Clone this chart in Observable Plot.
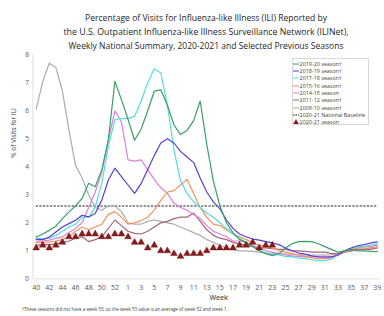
<!DOCTYPE html>
<html><head><meta charset="utf-8">
<script src="https://cdn.jsdelivr.net/npm/d3@7"></script>
<script src="https://cdn.jsdelivr.net/npm/@observablehq/plot@0.6"></script>
<style>
html,body{margin:0;padding:0;background:#fff;}
#wrap{position:relative;width:384px;height:316px;overflow:hidden;font-family:"Open Sans",sans-serif;}
#wrap > svg{position:absolute;left:0;top:0;}
#legend{position:absolute;left:291.5px;top:58px;width:77px;height:67px;border:0.8px solid #d9d9d9;box-sizing:border-box;background:#fff;font-size:5.4px;color:#404040;padding-top:1.2px;}
#legend .row{height:7.3px;display:flex;align-items:center;white-space:nowrap;}
#legend .row svg{display:block;margin-left:0.5px;margin-right:0.6px;}
</style></head><body><div id="wrap"></div>
<script>
// Week labels (season week order, 53 positions)
const weeks = [40,41,42,43,44,45,46,47,48,49,50,51,52,53,1,2,3,4,5,6,7,8,9,10,11,12,13,14,15,16,17,18,19,20,21,22,23,24,25,26,27,28,29,30,31,32,33,34,35,36,37,38,39];
const yTicks = [0,1,2,3,4,5,6,7,8];

const s2019_20 = [1.49,1.6,1.73,1.88,2.15,2.39,2.6,2.87,3.41,3.29,3.89,4.97,7.05,6.4,5.7,4.95,5.35,6.0,6.7,6.75,6.2,5.5,5.15,5.3,5.65,6.35,4.8,3.5,2.6,2.0,1.65,1.4,1.3,1.15,1.0,0.9,0.83,0.9,1.1,1.25,1.33,1.34,1.33,1.25,1.15,1.05,0.95,1.0,1.05,1.0,1.0,0.98,0.97];
const s2018_19 = [1.41,1.4,1.49,1.67,1.85,1.97,2.09,2.27,2.21,2.33,2.81,3.53,3.95,3.65,3.35,3.05,3.4,3.9,4.4,4.85,5.0,4.85,4.55,4.35,4.15,3.6,3.1,2.75,2.5,2.1,1.8,1.6,1.5,1.42,1.38,1.33,1.28,1.22,1.1,1.0,0.92,0.88,0.82,0.78,0.77,0.78,0.85,1.0,1.1,1.18,1.22,1.28,1.32];
const s2017_18 = [1.45,1.43,1.45,1.55,1.7,1.85,1.95,2.2,2.2,2.57,3.41,4.73,5.69,5.72,5.73,5.8,6.35,7.0,7.5,7.35,6.2,4.6,3.5,3.05,2.75,2.55,2.35,2.2,2.0,1.8,1.6,1.45,1.3,1.15,1.0,0.92,0.88,0.85,0.8,0.78,0.75,0.72,0.68,0.65,0.65,0.7,0.85,1.0,1.1,1.15,1.15,1.2,1.25];
const s2015_16 = [1.3,1.3,1.32,1.35,1.4,1.5,1.7,1.85,1.75,1.85,1.95,2.3,2.4,2.2,1.95,2.0,2.08,2.2,2.45,2.8,3.1,3.15,3.35,3.55,3.05,2.55,2.2,1.95,1.9,1.75,1.6,1.5,1.4,1.3,1.2,1.15,1.1,1.0,0.95,0.9,0.85,0.8,0.75,0.72,0.72,0.75,0.85,0.95,1.05,1.1,1.1,1.1,1.15];
const s2014_15 = [1.35,1.35,1.38,1.45,1.5,1.65,1.8,2.0,2.55,3.1,3.8,4.95,6.0,5.6,4.25,4.2,4.25,3.9,3.55,3.25,3.05,2.7,2.55,2.45,2.3,2.15,1.9,1.7,1.6,1.5,1.35,1.35,1.3,1.2,1.1,1.0,0.95,0.9,0.85,0.82,0.8,0.78,0.78,0.8,0.8,0.78,0.85,0.95,1.05,1.1,1.15,1.15,1.2];
const s2011_12 = [1.2,1.22,1.22,1.25,1.3,1.35,1.45,1.5,1.33,1.4,1.5,1.8,2.1,1.9,1.7,1.62,1.6,1.7,1.85,2.0,2.05,2.15,2.2,2.2,2.35,2.05,1.75,1.55,1.45,1.4,1.3,1.25,1.2,1.15,1.1,1.1,1.08,1.05,1.05,1.0,1.0,0.98,0.95,0.95,0.95,0.9,0.9,0.95,1.0,1.05,1.05,1.05,1.1];
const s2009_10 = [6.05,7.05,7.7,7.55,6.7,5.3,4.05,3.6,3.0,2.55,2.45,2.6,2.6,2.4,2.0,1.95,1.95,2.05,2.1,2.05,2.0,1.95,1.85,1.75,1.65,1.55,1.4,1.3,1.2,1.1,1.05,1.0,1.0,0.98,0.95,0.92,0.9,0.9,0.88,0.88,0.85,0.85,0.85,0.85,0.85,0.85,0.9,0.95,1.0,1.05,1.05,1.1,1.1];
const baseline2020_21 = 2.6;
const s2020_21 = [1.1,1.2,1.1,1.2,1.3,1.5,1.5,1.6,1.6,1.6,1.5,1.5,1.6,1.6,1.5,1.3,1.3,1.1,1.2,1.0,1.0,0.9,0.8,0.9,0.9,0.9,1.0,1.1,1.1,1.1,1.1,1.2,1.2,1.3,1.1,1.2,1.2];

const seasonNames = ["2019-20 season†","2018-19 season†","2017-18 season†","2015-16 season†","2014-15 season","2011-12 season†","2009-10 season†"];
const seasonValues = [s2019_20,s2018_19,s2017_18,s2015_16,s2014_15,s2011_12,s2009_10];
const seasonColors = ["#3a9f66","#5540d6","#52dede","#f4915a","#e07fdd","#a4657d","#acacac"];
const baselineName = "2020-21 National Baseline";
const currentName = "2020-21 season";

const lineData = seasonNames.flatMap((name, k) => seasonValues[k].map((v, i) => ({name, i, v})));
const curData = s2020_21.map((v, i) => ({i, v}));

const drawOrder = [6,5,4,3,2,1,0];

const chart = Plot.plot({
  width: 384, height: 316,
  marginLeft: 32.4, marginRight: 3.9, marginTop: 54.3, marginBottom: 37.7,
  style: {fontFamily: "'Open Sans', sans-serif", color: "#595959", background: "transparent", overflow: "visible"},
  x: {domain: [-0.5, 52.5]},
  y: {domain: [0, 8]},
  color: {domain: seasonNames, range: seasonColors},
  marks: [
    Plot.ruleX([-0.5], {stroke: "#d9d9d9", strokeWidth: 0.8}),
    Plot.ruleY([0], {stroke: "#d9d9d9", strokeWidth: 0.8}),
    Plot.axisY({ticks: yTicks, tickSize: 0, tickPadding: 4, label: null, fontSize: 6.5}),
    Plot.axisX({ticks: d3.range(0, 53, 2), tickFormat: i => weeks[i], tickSize: 0, tickPadding: 6, label: null, fontSize: 7}),
    Plot.ruleY([baseline2020_21], {x1: 0, x2: 52, stroke: "#000", strokeWidth: 0.9, strokeDasharray: "2.2,1.4"}),
    ...drawOrder.map(k => Plot.line(lineData.filter(d => d.name === seasonNames[k]), {x: "i", y: "v", stroke: "name", strokeWidth: 1.2})),
    Plot.dot(curData, {x: "i", y: "v", symbol: "triangle", r: 2.5, fill: "#8c1a1a", stroke: "#5a0c0c", strokeWidth: 0.4}),
    Plot.text(["% of Visits for ILI"], {frameAnchor: "left", dx: -19, dy: -9, rotate: -90, fontSize: 6.5, fill: "#404040"}),
    Plot.text(["Week"], {frameAnchor: "bottom", dx: 12, dy: 21, fontSize: 7, fontWeight: "600", fill: "#595959"})
  ]
});

const wrap = document.getElementById("wrap");
wrap.appendChild(chart);

// Title and footnote overlay
const titleLines = [
  "Percentage of Visits for Influenza-like Illness (ILI) Reported by",
  "the U.S. Outpatient Influenza-like Illness Surveillance Network (ILINet),",
  "Weekly National Summary, 2020-2021 and Selected Previous Seasons"
];
const footnote = "†These seasons did not have a week 53, so the week 53 value is an average of week 52 and week 1.";
const ov = d3.select(wrap).append("svg").attr("width", 384).attr("height", 316).style("pointer-events", "none")
  .style("font-family", "'Open Sans', sans-serif");
const titleW = [242, 285, 275];
titleLines.forEach((t, k) => {
  ov.append("text").attr("x", 206).attr("y", 20.5 + 14 * k).attr("text-anchor", "middle")
    .attr("font-size", 9.5).attr("fill", "#262626")
    .attr("textLength", titleW[k]).attr("lengthAdjust", "spacingAndGlyphs").text(t);
});
ov.append("text").attr("x", 21.7).attr("y", 310.8).attr("font-size", 4.4).attr("fill", "#404040")
  .attr("textLength", 206).attr("lengthAdjust", "spacingAndGlyphs").text(footnote);

// Legend
const legend = d3.select(wrap).append("div").attr("id", "legend");
seasonNames.forEach((name, k) => {
  const row = legend.append("div").attr("class", "row");
  const sw = row.append("svg").attr("width", 6).attr("height", 6);
  sw.append("line").attr("x1", 0).attr("x2", 6).attr("y1", 3).attr("y2", 3).attr("stroke", seasonColors[k]).attr("stroke-width", 1);
  row.append("span").text(name);
});
{
  const row = legend.append("div").attr("class", "row");
  const sw = row.append("svg").attr("width", 6).attr("height", 6);
  sw.append("line").attr("x1", 0).attr("x2", 6).attr("y1", 3).attr("y2", 3).attr("stroke", "#000").attr("stroke-width", 0.9).attr("stroke-dasharray", "1.5,1");
  row.append("span").text(baselineName);
}
{
  const row = legend.append("div").attr("class", "row");
  const sw = row.append("svg").attr("width", 6).attr("height", 6);
  sw.append("path").attr("d", d3.symbol(d3.symbolTriangle, 14)()).attr("transform", "translate(3,3.4)").attr("fill", "#8c1a1a");
  row.append("span").text(currentName);
}
</script></body></html>
